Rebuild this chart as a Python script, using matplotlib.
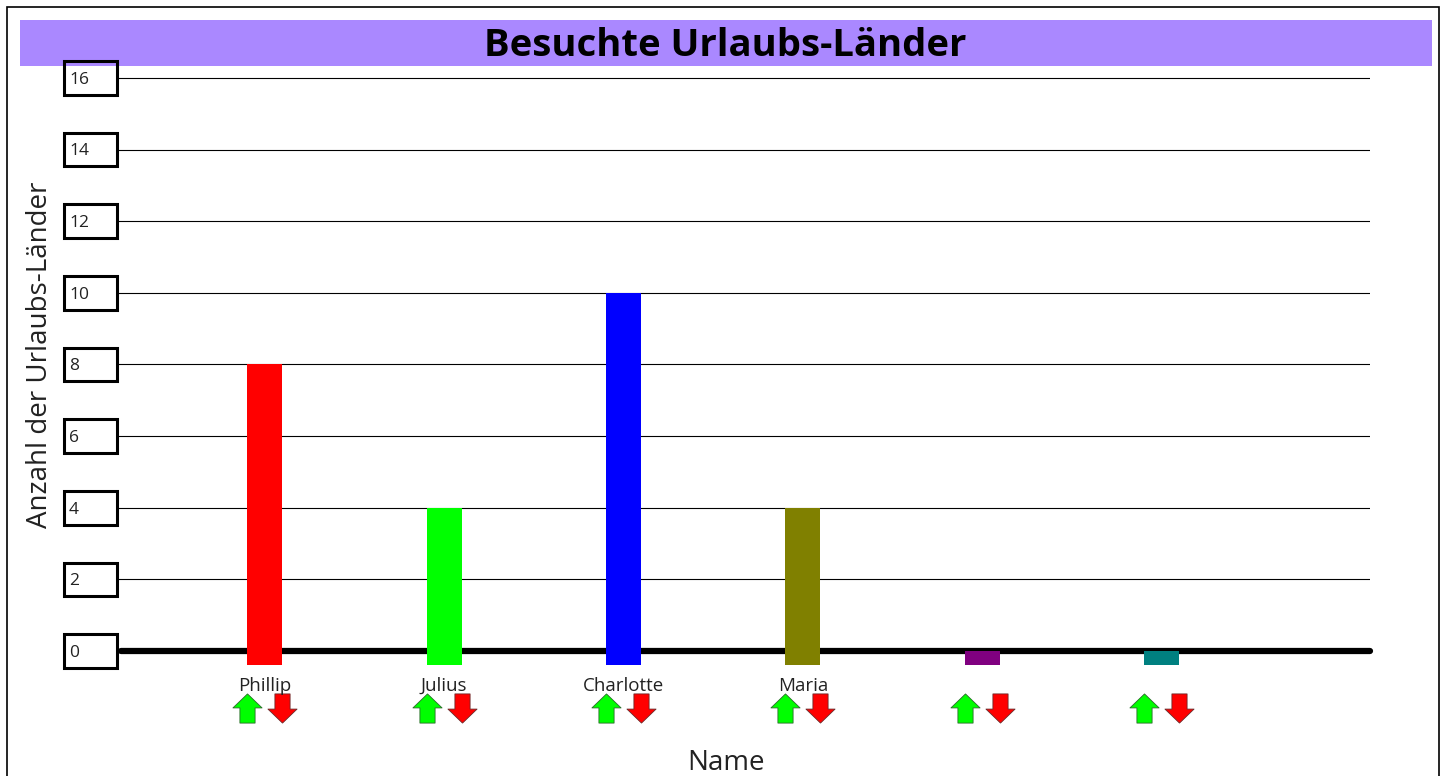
import matplotlib
matplotlib.use("Agg")
import matplotlib.pyplot as plt
import numpy as np
from matplotlib.patches import Rectangle
from matplotlib.path import Path
from matplotlib import transforms

plt.rcParams['font.family'] = ['Open Sans', 'DejaVu Sans']

# data
names = ["Phillip", "Julius", "Charlotte", "Maria", "", ""]
values = [8, 4, 10, 4, 0, 0]
bar_colors = ["#ff0000", "#00ff00", "#0000ff", "#808000", "#800080", "#008080"]
y_ticks = [0, 2, 4, 6, 8, 10, 12, 14, 16]

W, H = 1447, 776
fig = plt.figure(figsize=(W / 100, H / 100), dpi=100)

# outer frame and title banner (behind the axes)
fig.patches.append(Rectangle((7 / W, -0.02), (1439 - 7) / W, 1 - 7 / H + 0.02,
                             transform=fig.transFigure, fill=False,
                             edgecolor="black", linewidth=1.2, zorder=-2))
fig.patches.append(Rectangle((20 / W, 1 - 66 / H), (1432 - 20) / W, 46 / H,
                             transform=fig.transFigure, facecolor="#aa88ff",
                             edgecolor="none", zorder=-1))
fig.text(725 / W, 1 - 46 / H, "Besuchte Urlaubs-Länder", ha="center", va="center",
         fontsize=27.5, fontweight="bold", zorder=-1)

ax = fig.add_axes([117 / W, 0.138, (1370 - 117) / W, 0.7708])
ax.set_xlim(-0.822, 6.159)
ax.set_ylim(-0.5, 16.2)
ax.axis("off")

x = np.arange(len(names))
bar_w = 0.195

# grid lines
for t in y_ticks[1:]:
    ax.plot([-0.822, 6.159], [t, t], color="black", lw=0.8,
            solid_capstyle="round", zorder=1)
ax.plot([-0.80, 6.159], [0, 0], color="black", lw=4.5,
        solid_capstyle="round", zorder=1, clip_on=False)

# bars
ax.bar(x, np.array(values) + 0.4, bottom=-0.4, width=bar_w,
       color=bar_colors, zorder=2)

# tick boxes
bt = transforms.blended_transform_factory(ax.transAxes, ax.transData)
for t in y_ticks:
    ax.add_patch(Rectangle((-53 / 1253, t - 0.47), 53 / 1253, 0.94, transform=bt,
                           fill=False, edgecolor="black", lw=2.2, clip_on=False,
                           zorder=3))
    ax.text(-48 / 1253, t - 0.05, str(t), transform=bt, ha="left", va="center",
            fontsize=12.5, color="#222222")

# category labels
for xi, n in zip(x, names):
    ax.text(xi, -0.97, n, ha="center", va="center", fontsize=13.5, color="#222222")

# up / down arrow buttons
up = Path([(0, 0.5), (0.5, 0.02), (0.26, 0.02), (0.26, -0.5), (-0.26, -0.5),
           (-0.26, 0.02), (-0.5, 0.02), (0, 0.5)], closed=True)
down = Path([(0, -0.5), (0.5, -0.02), (0.26, -0.02), (0.26, 0.5), (-0.26, 0.5),
             (-0.26, -0.02), (-0.5, -0.02), (0, -0.5)], closed=True)
ax.plot(x - bar_w / 2, np.full(len(x), -1.59), ls="none", marker=up,
        markersize=21, markerfacecolor="#00ff00", markeredgecolor="#2a6a2a",
        markeredgewidth=0.6, clip_on=False)
ax.plot(x + bar_w / 2, np.full(len(x), -1.59), ls="none", marker=down,
        markersize=21, markerfacecolor="#ff0000", markeredgecolor="#6a2a2a",
        markeredgewidth=0.6, clip_on=False)

fig.text(726 / W, 1 - 763 / H, "Name", ha="center", va="center", fontsize=20,
         color="#222222")
fig.text(40 / W, 1 - 355 / H, "Anzahl der Urlaubs-Länder", ha="center",
         va="center", rotation=90, fontsize=20, color="#222222")

fig.savefig("out.png", dpi=100)
